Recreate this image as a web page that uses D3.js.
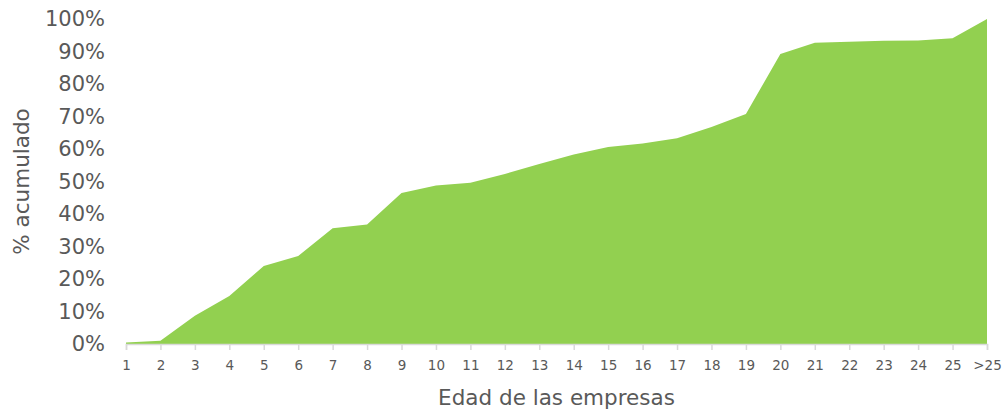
<!DOCTYPE html>
<html lang="es">
<head>
  <meta charset="UTF-8">
  <title>% acumulado por edad de las empresas</title>
  <script src="https://d3js.org/d3.v7.min.js"></script>
  <style>
    body { margin: 0; background: #fff; }
    svg text { font-family: "DejaVu Sans", Verdana, sans-serif; fill: #595959; }
    .x-axis text { font-size: 13.5px; }
    .y-axis text { font-size: 21px; }
    .title { font-size: 21.5px; }
  </style>
</head>
<body>
  <svg></svg>
  <script>
    const width = 1006;
    const height = 411;

    // categories (edad) and cumulative percent
    const edades = ["1","2","3","4","5","6","7","8","9","10","11","12","13",
                    "14","15","16","17","18","19","20","21","22","23","24","25",">25"];
    const acumulado = [0.5, 1.0, 8.7, 14.8, 24.0, 27.1, 35.6, 36.8, 46.5, 48.8, 49.6, 52.3, 55.4,
                       58.3, 60.6, 61.7, 63.3, 66.8, 70.8, 89.2, 92.7, 93.0, 93.3, 93.4, 94.1, 100];
    const yTicks = [0, 10, 20, 30, 40, 50, 60, 70, 80, 90, 100];

    const margin = { top: 19, right: 19, bottom: 67, left: 126 };

    const svg = d3.select("svg")
        .attr("width", width)
        .attr("height", height);

    const x = d3.scalePoint()
        .domain(edades)
        .range([margin.left, width - margin.right]);

    const y = d3.scaleLinear()
        .domain([0, 100])
        .range([height - margin.bottom, margin.top]);

    const data = edades.map((e, i) => ({ edad: e, v: acumulado[i] }));

    const area = d3.area()
        .x(d => x(d.edad))
        .y0(y(0))
        .y1(d => y(d.v));

    svg.append("path")
        .datum(data)
        .attr("fill", "#92d050")
        .attr("d", area);

    // x axis
    const xAxis = svg.append("g")
        .attr("class", "x-axis")
        .attr("transform", `translate(0,${y(0)})`)
        .call(d3.axisBottom(x).tickSize(6).tickPadding(10));
    xAxis.select(".domain").attr("stroke", "#d9d9d9").attr("stroke-width", 1.5);
    xAxis.selectAll(".tick line").attr("stroke", "#d9d9d9").attr("stroke-width", 1.5);

    // y axis, labels only
    const yAxis = svg.append("g")
        .attr("class", "y-axis")
        .attr("transform", `translate(${margin.left - 21},0)`)
        .call(d3.axisLeft(y).tickValues(yTicks).tickFormat(d => d + "%").tickSize(0).tickPadding(0));
    yAxis.select(".domain").remove();

    svg.append("text")
        .attr("class", "title")
        .attr("text-anchor", "middle")
        .attr("transform", `translate(29,${(y(0) + y(100)) / 2}) rotate(-90)`)
        .text("% acumulado");

    svg.append("text")
        .attr("class", "title")
        .attr("text-anchor", "middle")
        .attr("x", (margin.left + width - margin.right) / 2)
        .attr("y", 405)
        .text("Edad de las empresas");
  </script>
</body>
</html>
